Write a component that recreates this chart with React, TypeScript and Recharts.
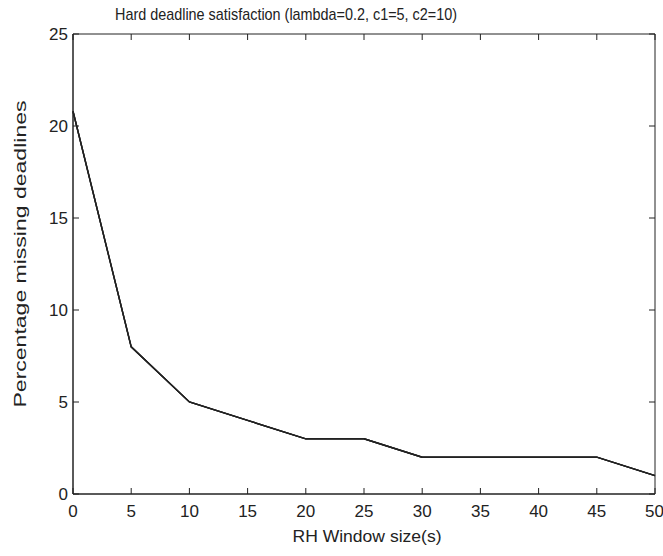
import { LineChart, Line, XAxis, YAxis } from 'recharts'

const windowSizes = [0, 5, 10, 15, 20, 25, 30, 35, 40, 45, 50]
const missingPct = [20.8, 8, 5, 4, 3, 3, 2, 2, 2, 2, 1]
const xTicks = [0, 5, 10, 15, 20, 25, 30, 35, 40, 45, 50]
const yTicks = [0, 5, 10, 15, 20, 25]

const data = windowSizes.map((x, i) => ({ x, y: missingPct[i] }))

const FONT = '"Liberation Sans", Arial, sans-serif'
const INK = '#222'
const tickStyle = { fill: INK, fontSize: 17, fontFamily: FONT }
const hiddenTick = { fill: 'transparent', fontSize: 17, fontFamily: FONT }

export default function App() {
  return (
    <div style={{ position: 'absolute', left: 0, top: 0, width: 663, height: 556, background: '#fff' }}>
      <LineChart width={663} height={556} data={data} margin={{ top: 34, right: 8, bottom: 0, left: 0 }}>
        <XAxis dataKey="x" type="number" domain={[0, 50]} ticks={xTicks} height={62}
          tickSize={0} tickMargin={11} tick={tickStyle} stroke={INK} />
        <YAxis type="number" domain={[0, 25]} ticks={yTicks} width={73}
          tickSize={0} tickMargin={5} tick={tickStyle} stroke={INK} />
        {/* mirrored axes: inward tick marks and the box */}
        <XAxis xAxisId="top" orientation="top" mirror dataKey="x" type="number" domain={[0, 50]} ticks={xTicks}
          tickSize={6} tick={hiddenTick} stroke={INK} />
        <YAxis yAxisId="right" orientation="right" mirror type="number" domain={[0, 25]} ticks={yTicks}
          width={30} tickSize={6} tick={hiddenTick} stroke={INK} />
        <XAxis xAxisId="bt" orientation="bottom" mirror dataKey="x" type="number" domain={[0, 50]} ticks={xTicks}
          tickSize={6} tick={hiddenTick} stroke={INK} />
        <YAxis yAxisId="lt" orientation="left" mirror type="number" domain={[0, 25]} ticks={yTicks}
          width={30} tickSize={6} tick={hiddenTick} stroke={INK} />
        <Line xAxisId="top" yAxisId="right" dataKey="y" stroke={INK} strokeWidth={1.4} dot={false} isAnimationActive={false} />
        <Line xAxisId="bt" yAxisId="lt" dataKey="y" stroke={INK} strokeWidth={1.4} dot={false} isAnimationActive={false} />
        <Line dataKey="y" stroke={INK} strokeWidth={1.4} dot={false} isAnimationActive={false} />
      </LineChart>
      <svg width={663} height={556} style={{ position: 'absolute', left: 0, top: 0, pointerEvents: 'none' }}>
        <text x={286} y={20} textAnchor="middle" fill={INK} fontSize={17} fontFamily={FONT}
          textLength={342} lengthAdjust="spacingAndGlyphs">
          Hard deadline satisfaction (lambda=0.2, c1=5, c2=10)
        </text>
        <text x={367} y={542} textAnchor="middle" fill={INK} fontSize={17} fontFamily={FONT}
          textLength={149} lengthAdjust="spacingAndGlyphs">
          RH Window size(s)
        </text>
        <text x={26} y={254} textAnchor="middle" fill={INK} fontSize={17} fontFamily={FONT}
          textLength={307} lengthAdjust="spacingAndGlyphs" transform="rotate(-90 26 254)">
          Percentage missing deadlines
        </text>
      </svg>
    </div>
  )
}
